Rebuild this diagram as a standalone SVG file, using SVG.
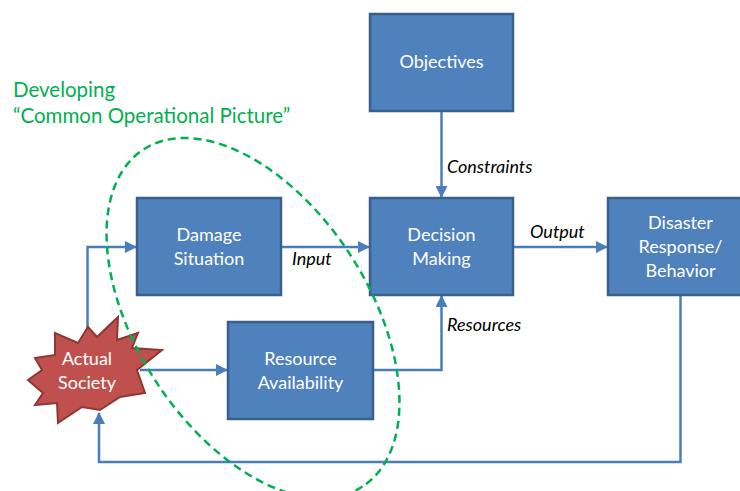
<svg xmlns="http://www.w3.org/2000/svg" width="740" height="491" viewBox="0 0 740 491">
<style>
.box{fill:#4F81BD;stroke:#3A5F8B;stroke-width:2.5}
.bt{font-family:Lato,"Open Sans",sans-serif;font-size:18px;fill:#fff;text-anchor:middle}
.lab{font-family:Lato,"Open Sans",sans-serif;font-size:18px;font-style:italic;fill:#000}
.con{fill:none;stroke:#4A7EBB;stroke-width:2.5}
.green{font-family:Lato,"Open Sans",sans-serif;font-size:20.5px;fill:#00B050}
</style>
<defs>
<marker id="ah" markerWidth="12" markerHeight="12" viewBox="0 0 12 12" refX="11" refY="6" orient="auto" markerUnits="userSpaceOnUse">
<path d="M0,0 L12,6 L0,12 Z" fill="#4A7EBB"/>
</marker>
</defs>
<rect width="740" height="491" fill="#fff"/>
<g id="connectors">
<path class="con" d="M87.5,345 V247 H136" marker-end="url(#ah)"/>
<path class="con" d="M281,247 H369" marker-end="url(#ah)"/>
<path class="con" d="M140,370 H227" marker-end="url(#ah)"/>
<path class="con" d="M373,370 H441.5 V296" marker-end="url(#ah)"/>
<path class="con" d="M441.5,111 V197" marker-end="url(#ah)"/>
<path class="con" d="M513,247 H607" marker-end="url(#ah)"/>
<path class="con" d="M680.5,295 V462 H99 V413" marker-end="url(#ah)"/>
<text class="lab" x="447" y="173">Constraints</text>
<text class="lab" x="530" y="238">Output</text>
<text class="lab" x="292" y="265">Input</text>
<text class="lab" x="447" y="331">Resources</text>
</g>
<g id="objectives">
<rect class="box" x="370" y="14" width="143" height="97"/>
<text class="bt" x="441.5" y="68">Objectives</text>
</g>
<g id="decision">
<rect class="box" x="370" y="198" width="143" height="97"/>
<text class="bt" x="441.5" y="241">Decision</text>
<text class="bt" x="441.5" y="265">Making</text>
</g>
<g id="disaster">
<rect class="box" x="608" y="198" width="145" height="97"/>
<text class="bt" x="680.5" y="229">Disaster</text>
<text class="bt" x="680.5" y="253">Response/</text>
<text class="bt" x="680.5" y="277">Behavior</text>
</g>
<g id="damage">
<rect class="box" x="137" y="198" width="144" height="97"/>
<text class="bt" x="209" y="241">Damage</text>
<text class="bt" x="209" y="265">Situation</text>
</g>
<g id="resource">
<rect class="box" x="228" y="322" width="145" height="97"/>
<text class="bt" x="300.5" y="365">Resource</text>
<text class="bt" x="300.5" y="389">Availability</text>
</g>
<g id="society">
<polygon points="118,317 117,340 138,333 132,348 162,350 137,370 145,393 120,397 100,410 82,407 58,423 57,403 35,405 43,393 28,380 42,370 35,358 55,355 55,333 78,343 88,327 97,337" fill="#C0504D" stroke="#8C3836" stroke-width="2" stroke-linejoin="miter"/>
<text class="bt" x="87" y="365">Actual</text>
<text class="bt" x="87" y="389">Society</text>
</g>
<g id="cop">
<text class="green" x="13" y="97">Developing</text>
<text class="green" x="13" y="123">“Common Operational Picture”</text>
<ellipse cx="253" cy="318" rx="201" ry="116" transform="rotate(57 253 318)" fill="none" stroke="#00B050" stroke-width="2.5" stroke-dasharray="8 5"/>
</g>
</svg>
